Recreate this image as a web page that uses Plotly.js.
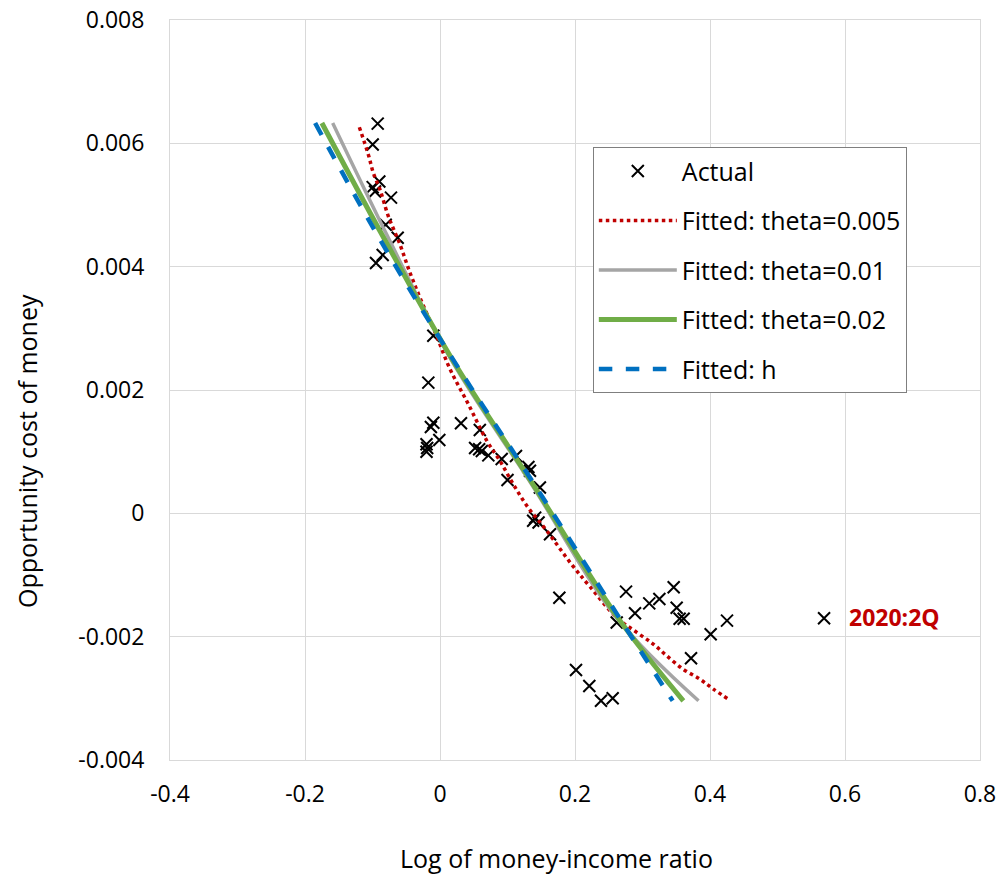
<!DOCTYPE html>
<html>
<head>
<meta charset="utf-8">
<script src="https://cdn.plot.ly/plotly-3.0.1.min.js"></script>
<style>html,body{margin:0;padding:0;background:#fff;}#chart{width:1000px;height:877px;}</style>
</head>
<body>
<div id="chart"></div>
<script>
// Actual observations: log money-income ratio (x) vs opportunity cost of money (y)
const actualX = [-0.0923,-0.0997,-0.0899,-0.0997,-0.0963,-0.0726,-0.0804,-0.0627,-0.0849,-0.0948,
  -0.0099,-0.0173,-0.0099,-0.0135,0.0311,-0.001,-0.020,-0.019,-0.020,0.059,
  0.052,0.058,0.062,0.0716,0.0914,0.1126,0.1333,0.131,0.100,0.148,
  0.138,0.146,0.141,0.163,0.1768,0.2756,0.3462,0.325,0.310,0.2889,
  0.3506,0.355,0.361,0.2618,0.401,0.4252,0.3719,0.2015,0.2212,0.2385,
  0.2558,0.569];
const actualY = [0.00632,0.00598,0.00538,0.00529,0.00522,0.00512,0.00468,0.00447,0.00419,0.00406,
  0.00288,0.00212,0.00147,0.00140,0.00146,0.00119,0.00112,0.00106,0.00100,0.00135,
  0.00106,0.00104,0.00101,0.00094,0.00088,0.00093,0.00069,0.00075,0.00054,0.00042,
  -0.00012,-0.00015,-0.00007,-0.00034,-0.00137,-0.00127,-0.00120,-0.00139,-0.00146,-0.00162,
  -0.00153,-0.00171,-0.00171,-0.00177,-0.00196,-0.00174,-0.00235,-0.00254,-0.00280,-0.00304,
  -0.00300,-0.00170];

// Fitted: theta=0.005
const fit005X = [-0.1195,-0.1062,-0.0988,-0.0889,-0.0766,-0.0593,-0.0444,-0.0286,-0.006,0.0148,0.042,0.0692,0.0889,0.1086,0.1308,0.158,0.1951,0.2222,0.2618,0.2914,0.316,0.3358,0.3605,0.3852,0.405,0.4296];
const fit005Y = [0.00626,0.00582,0.00552,0.00525,0.00482,0.00436,0.0039,0.00347,0.0029,0.00234,0.00177,0.00118,0.00085,0.00047,0.00009,-0.00028,-0.00083,-0.00119,-0.00169,-0.00193,-0.00212,-0.00231,-0.00253,-0.00269,-0.00285,-0.00303];

// Fitted: theta=0.01
const fit01X = [-0.159,-0.078,0.016,0.134,0.262,0.383];
const fit01Y = [0.00633,0.0045,0.0025,0.0005,-0.0017,-0.00304];

// Fitted: theta=0.02
const fit02X = [-0.175,-0.085,0.018,0.136,0.264,0.3605];
const fit02Y = [0.00633,0.0045,0.0025,0.0005,-0.0017,-0.00304];

// Fitted: h
const fitHX = [-0.185,-0.092,0.019,0.138,0.266,0.3447];
const fitHY = [0.00633,0.0045,0.0025,0.0005,-0.0017,-0.00304];

const xTickVals = [-0.4,-0.2,0,0.2,0.4,0.6,0.8];
const xTickText = ["-0.4","-0.2","0","0.2","0.4","0.6","0.8"];
const yTickVals = [-0.004,-0.002,0,0.002,0.004,0.006,0.008];
const yTickText = ["-0.004","-0.002","0","0.002","0.004","0.006","0.008"];

const xTitle = "Log of money-income ratio";
const yTitle = "Opportunity cost of money";
const noteText = "2020:2Q";
const noteX = 0.603, noteY = -0.00168;

const FONT = "Open Sans, Noto Sans, sans-serif";

const traces = [
  {x: actualX, y: actualY, type: 'scatter', mode: 'markers', name: 'Actual', legendgroup: 'a',
   marker: {symbol: 'x-thin-open', size: 12, color: '#000', line: {color: '#000', width: 2}}},
  {x: fit005X, y: fit005Y, type: 'scatter', mode: 'lines', name: 'Fitted: theta=0.005', legendgroup: 'b',
   line: {color: '#C00000', width: 3.5, dash: 'dot', shape: 'spline'}},
  {x: fit01X, y: fit01Y, type: 'scatter', mode: 'lines', name: 'Fitted: theta=0.01', legendgroup: 'c',
   line: {color: '#A5A5A5', width: 3.5, shape: 'spline'}},
  {x: fit02X, y: fit02Y, type: 'scatter', mode: 'lines', name: 'Fitted: theta=0.02', legendgroup: 'd',
   line: {color: '#70AD47', width: 5, shape: 'spline'}},
  {x: fitHX, y: fitHY, type: 'scatter', mode: 'lines', name: 'Fitted: h', legendgroup: 'e',
   line: {color: '#0070C0', width: 4.5, dash: 'dash', shape: 'spline'}}
];

const layout = {
  width: 1000, height: 877,
  margin: {l: 170, r: 20, t: 20, b: 117},
  paper_bgcolor: '#fff', plot_bgcolor: '#fff',
  font: {family: FONT, size: 23, color: '#000'},
  showlegend: true,
  legend: {x: 0.522, y: 0.828, xanchor: 'left', yanchor: 'top',
    bgcolor: '#fff', bordercolor: '#7F7F7F', borderwidth: 1,
    font: {family: FONT, size: 25, color: '#000'}, tracegroupgap: 14, itemwidth: 78},
  xaxis: {range: [-0.4, 0.8], tickvals: xTickVals, ticktext: xTickText,
    showgrid: true, gridcolor: '#D9D9D9', gridwidth: 1, zeroline: false,
    showline: true, linecolor: '#D9D9D9', mirror: true, ticks: '', ticklabelstandoff: 13,
    tickfont: {family: FONT, size: 23}},
  yaxis: {range: [-0.004, 0.008], tickvals: yTickVals, ticktext: yTickText,
    showgrid: true, gridcolor: '#D9D9D9', gridwidth: 1, zeroline: false,
    showline: true, linecolor: '#D9D9D9', mirror: true, ticks: '', ticklabelstandoff: 20,
    tickfont: {family: FONT, size: 23}},
  annotations: [
    {x: noteX, y: noteY, xref: 'x', yref: 'y', text: '<b>' + noteText + '</b>',
     showarrow: false, xanchor: 'left', yanchor: 'middle',
     font: {family: FONT, size: 23, color: '#C00000'}},
    {x: 0.477, y: -0.1324, xref: 'paper', yref: 'paper', text: xTitle, showarrow: false,
     xanchor: 'center', yanchor: 'middle', font: {family: FONT, size: 25, color: '#000'}},
    {x: -0.1765, y: 0.4176, xref: 'paper', yref: 'paper', text: yTitle, showarrow: false,
     textangle: -90, xanchor: 'center', yanchor: 'middle', font: {family: FONT, size: 25, color: '#000'}}
  ]
};

Plotly.newPlot('chart', traces, layout, {displayModeBar: false, staticPlot: true});
</script>
</body>
</html>
